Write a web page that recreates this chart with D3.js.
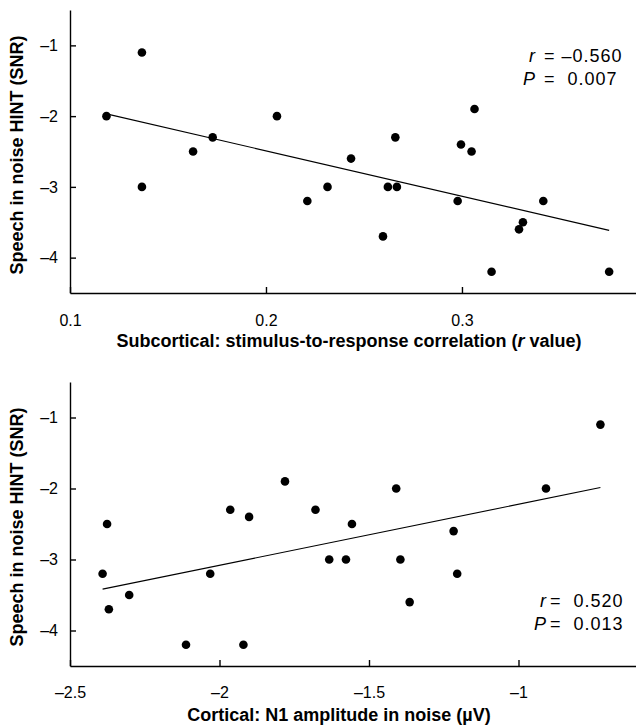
<!DOCTYPE html>
<html>
<head>
<meta charset="utf-8">
<script src="https://cdn.jsdelivr.net/npm/d3@7"></script>
<style>
  body { margin: 0; background: #fff; }
  text { font-family: "Liberation Sans", Arial, sans-serif; fill: #000; }
  .domain { stroke-width: 1.4px; }
  .tick line { stroke-width: 1.4px; }
</style>
</head>
<body>
<div id="chart"></div>
<script>
// subcortical: stimulus-to-response correlation vs HINT
var subX = [0.1186, 0.1367, 0.1367, 0.1628, 0.1728, 0.2056, 0.2211, 0.2314, 0.2434, 0.2597,
            0.2622, 0.2660, 0.2668, 0.2978, 0.2995, 0.3049, 0.3064, 0.3151, 0.3291, 0.3311,
            0.3415, 0.3751];
var subY = [-2.0, -1.1, -3.0, -2.5, -2.3, -2.0, -3.2, -3.0, -2.6, -3.7,
            -3.0, -2.3, -3.0, -3.2, -2.4, -2.5, -1.9, -4.2, -3.6, -3.5,
            -3.2, -4.2];

// cortical: N1 amplitude in noise vs HINT
var corX = [-2.391, -2.376, -2.370, -2.302, -2.112, -2.031, -1.964, -1.920, -1.901, -1.781,
            -1.679, -1.633, -1.577, -1.557, -1.409, -1.395, -1.364, -1.217, -1.205, -0.908,
            -0.726];
var corY = [-3.2, -2.5, -3.7, -3.5, -4.2, -3.2, -2.3, -4.2, -2.4, -1.9,
            -2.3, -3.0, -3.0, -2.5, -2.0, -3.0, -3.6, -2.6, -3.2, -2.0,
            -1.1];

var yTicks = [-1, -2, -3, -4];
var subTicks = [0.1, 0.2, 0.3];
var corTicks = [-2.5, -2, -1.5, -1];

var svg = d3.select("#chart").append("svg")
    .attr("width", 636)
    .attr("height", 728);

var dash = function(d) { return String(d).replace("-", "\u2013"); };

function panel(opt) {
  var x = d3.scaleLinear().domain(opt.xDomain).range([70, 636]);
  var y = d3.scaleLinear().domain([-4.5, -0.5]).range([opt.bottom, opt.top]);
  var g = svg.append("g");

  // axes, ticks pointing inward
  g.append("g")
    .attr("transform", "translate(0," + opt.bottom + ")")
    .call(d3.axisBottom(x).tickValues(opt.xTicks).tickFormat(opt.xFormat)
      .tickSizeInner(-6).tickSizeOuter(0).tickPadding(opt.xPad))
    .call(function(a) { a.selectAll("text").style("font-size", "16px"); });

  g.append("g")
    .attr("transform", "translate(70,0)")
    .call(d3.axisLeft(y).tickValues(yTicks).tickFormat(dash)
      .tickSizeInner(-6).tickSizeOuter(0).tickPadding(12))
    .call(function(a) { a.selectAll("text").style("font-size", "16px"); });

  // least squares fit line
  var mx = d3.mean(opt.xs), my = d3.mean(opt.ys);
  var sxy = d3.sum(opt.xs, function(v, i) { return (v - mx) * (opt.ys[i] - my); });
  var sxx = d3.sum(opt.xs, function(v) { return (v - mx) * (v - mx); });
  var b = sxy / sxx, a0 = my - b * mx;
  var ext = d3.extent(opt.xs);
  g.append("path")
    .datum(ext)
    .attr("d", d3.line().x(function(d) { return x(d); }).y(function(d) { return y(a0 + b * d); }))
    .attr("stroke", "#000")
    .attr("stroke-width", 1.1)
    .attr("fill", "none");

  g.selectAll("circle")
    .data(opt.xs)
    .enter().append("circle")
      .attr("cx", function(d) { return x(d); })
      .attr("cy", function(d, i) { return y(opt.ys[i]); })
      .attr("r", 4.3)
      .attr("fill", "#000");

  // axis titles
  var xt = g.append("text")
    .attr("x", opt.titleX)
    .attr("y", opt.titleY)
    .attr("text-anchor", "middle")
    .style("font-size", "18px")
    .style("font-weight", "bold");
  opt.title.forEach(function(p) {
    xt.append("tspan").text(p[0]).style("font-style", p[1] ? "italic" : "normal");
  });

  g.append("text")
    .attr("transform", "translate(23," + opt.labelY + ") rotate(-90)")
    .attr("text-anchor", "middle")
    .style("font-size", "18px")
    .style("font-weight", "bold")
    .text("Speech in noise HINT (SNR)");

  // stats
  opt.stats.forEach(function(s, i) {
    var yy = opt.statY + i * 23;
    g.append("text").attr("x", opt.letterX).attr("y", yy)
      .attr("text-anchor", "end").style("font-size", "18px").style("font-style", "italic")
      .text(s[0]);
    g.append("text").attr("x", opt.eqX).attr("y", yy)
      .style("font-size", "18px").style("white-space", "pre")
      .style("letter-spacing", "1px")
      .text(s[1]);
  });
}

panel({
  xs: subX, ys: subY, top: 10, bottom: 293,
  xDomain: [0.1, 0.3888], xTicks: subTicks, xFormat: d3.format(".1f"), xPad: 22,
  titleX: 349, titleY: 347, labelY: 155,
  title: [["Subcortical: stimulus-to-response correlation (", false], ["r", true], [" value)", false]],
  stats: [["r", "= \u20130.560"], ["P", "=  0.007"]],
  letterX: 535, eqX: 544, statY: 62
});

panel({
  xs: corX, ys: corY, top: 382, bottom: 666,
  xDomain: [-2.5, -0.607], xTicks: corTicks, xFormat: dash, xPad: 21,
  titleX: 339, titleY: 721, labelY: 527,
  title: [["Cortical: N1 amplitude in noise (\u00b5V)", false]],
  stats: [["r", "=  0.520"], ["P", "=  0.013"]],
  letterX: 546, eqX: 550, statY: 607
});
</script>
</body>
</html>
